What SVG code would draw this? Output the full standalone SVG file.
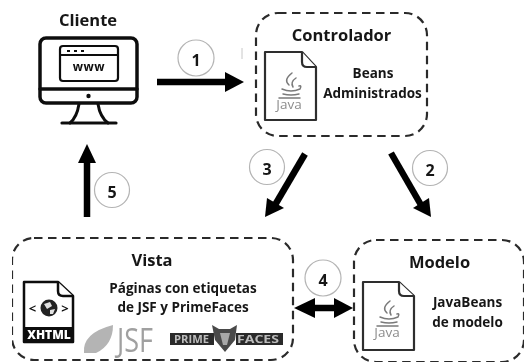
<svg xmlns="http://www.w3.org/2000/svg" width="525" height="364" viewBox="0 0 525 364">
<defs><filter id="soft" x="0" y="0" width="100%" height="100%"><feGaussianBlur stdDeviation="0.4"/></filter></defs>
<style>
text{font-family:"Open Sans","Noto Sans",sans-serif;fill:#151515;text-anchor:middle}
.t{font-size:16.500px;font-weight:700}
.s{font-size:13.500px;font-weight:700}
.n{font-size:16px;font-weight:700}
.box{fill:none;stroke:#2a2a2a;stroke-width:2.2;stroke-dasharray:8.500 5.500}
.c{fill:#fff;stroke:#b4b4b4;stroke-width:1.2}
.a{stroke:#050505;stroke-width:6.500;fill:none}
.h{fill:#050505}
.f{fill:#fff;stroke:#2e2e2e;stroke-width:2.200;stroke-linejoin:round}
.i{fill:none;stroke:#111;stroke-linejoin:round;stroke-linecap:round}
.g{fill:none;stroke:#7a7a7a;stroke-width:1.500;stroke-linecap:round}
.j{font-size:13.500px;fill:#8d8d8d;font-weight:400}
.p{font-size:10.500px;font-weight:700;fill:#bdbdbd}
</style>
<rect width="525" height="364" fill="#fff"/>
<g filter="url(#soft)">
<g id="connectors">
<path class="a" d="M157 82H228"/><path class="h" d="M225 72L244 82L225 92Z"/>
<path class="a" d="M87 217V160"/><path class="h" d="M78 163L87 144L96 163Z"/>
<path class="a" d="M305 154L275 205"/><path class="h" d="M267 198L265 217L284 208Z"/>
<path class="a" d="M391 153L421 205"/><path class="h" d="M413 208L431 217L429 198Z"/>
<path class="a" d="M310 308H338"/><path class="h" d="M315 298L294 308L315 318Z"/><path class="h" d="M334 298L353 308L334 318Z"/>
<path d="M242 48V59" stroke="#c8c8c8" stroke-width="1"/>
</g>
<g id="label1"><circle class="c" cx="196" cy="58" r="18"/><text class="n" x="196" y="66">1</text></g>
<g id="label2"><circle class="c" cx="430" cy="168" r="17.500"/><text class="n" x="430" y="176">2</text></g>
<g id="label3"><circle class="c" cx="267" cy="167" r="17.500"/><text class="n" x="267" y="175">3</text></g>
<g id="label4"><circle class="c" cx="323" cy="278" r="18"/><text class="n" x="323" y="286">4</text></g>
<g id="label5"><circle class="c" cx="112" cy="190" r="17.500"/><text class="n" x="112" y="198">5</text></g>
<g id="cliente">
<text class="t" x="88" y="26">Cliente</text>
<rect class="i" x="40" y="38" width="97" height="65" rx="6" stroke-width="3.500"/>
<path class="i" stroke-width="3.500" d="M40 89H137"/>
<circle cx="88.500" cy="96" r="2.200" fill="#111"/>
<rect class="i" x="60" y="46" width="58" height="35" rx="3" stroke-width="2.200"/>
<path class="i" stroke-width="1.800" d="M60 55H118"/>
<path stroke="#111" fill="none" stroke-width="2" stroke-dasharray="3 4" d="M67 51H86"/>
<text x="89" y="71" style="font-size:12px;font-weight:700;letter-spacing:.5px;fill:#111">www</text>
<path class="i" stroke-width="3" d="M79 104Q77 117 70 123M98 104Q100 117 108 123"/>
<path class="i" stroke-width="3.200" d="M62 123H116"/>
</g>
<g id="controlador">
<rect class="box" x="256" y="13" width="171" height="123" rx="22"/>
<text class="t" x="341.500" y="41">Controlador</text>
<path class="f" d="M265 52H302L316 67V120H265Z"/><path class="f" d="M302 52V62Q302 67 307 67H316"/>
<text class="j" x="289" y="109">Java</text>
<path class="g" d="M292 73Q283 80 289 85M296 78Q290 82 293 87M282 89Q291 93 300 89Q302 85 299 86M283 94Q291 96 299 94M279 98H300"/>
<text class="s" x="373" y="78">Beans</text>
<text class="s" x="372.500" y="98">Administrados</text>
</g>
<g id="vista">
<rect class="box" x="12" y="238" width="281" height="122" rx="22"/>
<text class="t" x="152" y="266">Vista</text>
<path style="stroke:#111;stroke-width:2.500" class="f" d="M24 282H58L73 296V342H24Z"/><path style="stroke:#111;stroke-width:2.500" class="f" d="M58 282V291Q58 296 63 296H73"/>
<rect x="25" y="327" width="48" height="15" fill="#111"/>
<text x="49" y="339" style="font-size:12px;font-weight:800;fill:#fff">XHTML</text>
<text x="32.500" y="313" style="font-size:13px;font-weight:700;fill:#111">&lt;</text>
<text x="65" y="313" style="font-size:13px;font-weight:700;fill:#111">&gt;</text>
<circle cx="49" cy="308" r="8.500" fill="#222"/>
<path d="M44 304L50 302L52 306L47 309ZM50 310L55 309L53 314L50 314Z" fill="#e0e0e0"/>
<text class="s" x="183" y="293">Páginas con etiquetas</text>
<text class="s" x="183" y="312">de JSF y PrimeFaces</text>
<path d="M84 353Q82 333 113 325Q113 345 96 353Z" fill="#b4b4b4"/>
<text x="135" y="352" textLength="36" lengthAdjust="spacingAndGlyphs" style="font-size:33px;font-weight:400;fill:#a0a0a0">JSF</text>
<rect x="170" y="333" width="44" height="12" fill="#2a2a2a"/><rect x="236" y="333" width="47" height="12" fill="#2a2a2a"/>
<path d="M212 325L219 329H230L237 325L235 340L225 352L215 340Z" fill="#4a4a4a"/>
<path d="M220 333H230L227 345H223Z" fill="#a8a8a8"/>
<text x="191.500" y="343" textLength="35" lengthAdjust="spacingAndGlyphs" class="p">PRIME</text>
<text x="258" y="343" textLength="42" lengthAdjust="spacingAndGlyphs" class="p">FACES</text>
</g>
<g id="modelo">
<rect class="box" x="354" y="240" width="170" height="122" rx="22"/>
<text class="t" x="439.500" y="268">Modelo</text>
<path class="f" d="M363 282H399L414 296V350H363Z"/><path class="f" d="M399 282V291Q399 296 404 296H414"/>
<text class="j" x="387" y="337">Java</text>
<path class="g" d="M390 301Q381 308 387 313M394 306Q388 310 391 315M380 317Q389 321 398 317Q400 313 397 314M381 322Q389 324 397 322M377 326H398"/>
<text class="s" x="467.500" y="307">JavaBeans</text>
<text class="s" x="467.500" y="327">de modelo</text>
</g>
</g>
</svg>
